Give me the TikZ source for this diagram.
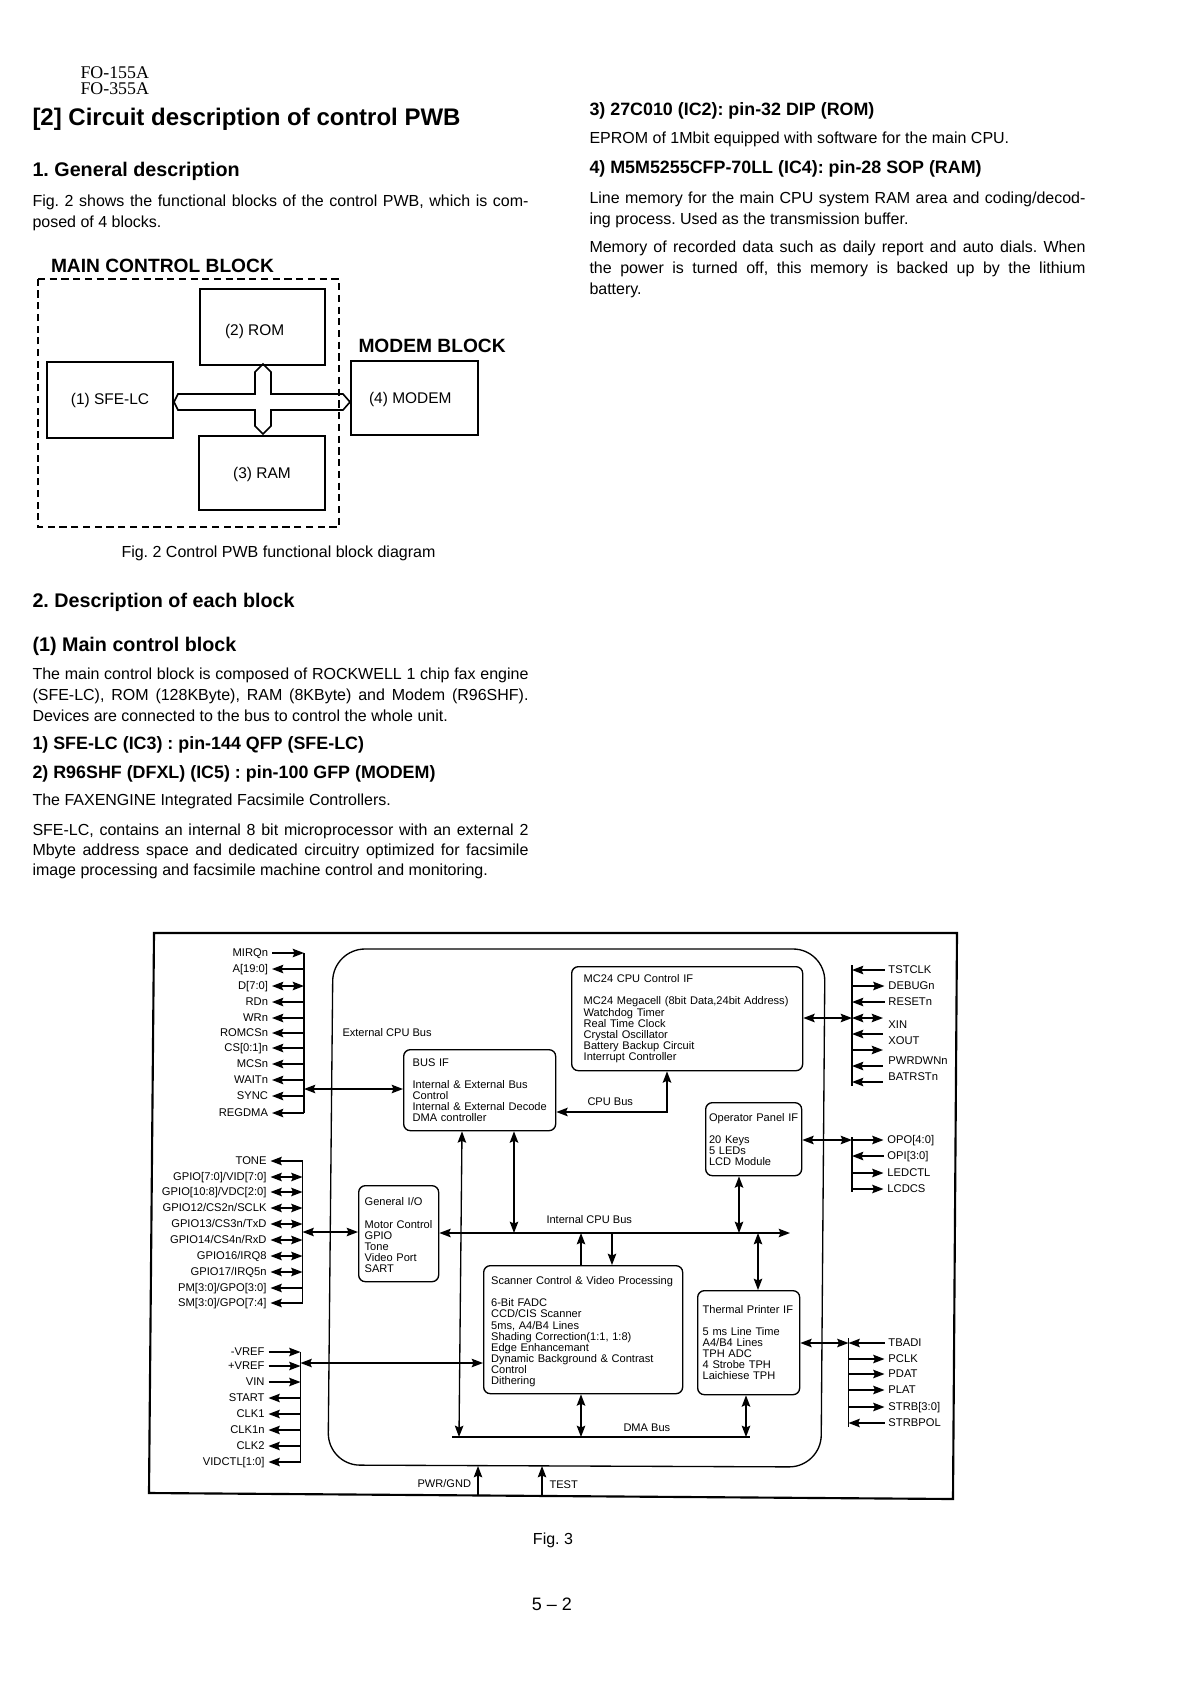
\documentclass[tikz,border=0pt]{standalone}
\usepackage{fontspec}
\setmainfont{Liberation Sans}
\newfontfamily\headerfont{Liberation Serif}
\usetikzlibrary{arrows.meta}
\newcommand{\boxlabel}[2]{\raisebox{-#1}[0pt][0pt]{#2}}

\tikzset{every picture/.style={line width=0.75pt}}
\tikzset{
  fiber/.style={line width=1pt},
  sigin/.style={fiber,-{Stealth[length=8.5pt,width=6.4pt,inset=1.4pt]}},
  sigout/.style={fiber,{Stealth[length=8.5pt,width=6.4pt,inset=1.4pt]}-},
  sigboth/.style={fiber,{Stealth[length=8.5pt,width=6.4pt,inset=1.4pt]}-{Stealth[length=8.5pt,width=6.4pt,inset=1.4pt]}},
  bigtitle/.style={anchor=west,inner sep=0pt,font=\bfseries\fontsize{18}{20}\selectfont},
  section/.style={anchor=west,inner sep=0pt,font=\bfseries\fontsize{14.8}{17}\selectfont},
  subsection/.style={anchor=west,inner sep=0pt,font=\bfseries\fontsize{13.4}{15}\selectfont},
  bodytext/.style={anchor=north west,inner sep=0pt,text width=#1,align=justify,font=\fontsize{12}{15.9}\selectfont},
  oneline/.style={anchor=west,inner sep=0pt,font=\fontsize{12}{15}\selectfont},
  tag/.style={anchor=west,inner sep=0pt,font=\fontsize{8.3}{8.3}\selectfont},
  pinl/.style={anchor=east,inner xsep=2.6pt,inner ysep=0pt,text height=6.2pt,text depth=1.5pt,font=\fontsize{8.4}{8.4}\selectfont},
  pinr/.style={anchor=west,inner xsep=2.6pt,inner ysep=0pt,text height=6.2pt,text depth=1.5pt,font=\fontsize{8.4}{8.4}\selectfont},
  bigbox/.style={draw,line width=1.5pt,anchor=north west,align=center,inner sep=0pt,font=\fontsize{11.6}{14}\selectfont},
  block/.style={draw,line width=1pt,rounded corners=5pt,anchor=north west,align=left,inner sep=0pt,font=\fontsize{8.3}{8.3}\selectfont},
  padl/.style={execute at begin node={\leftskip=#1}}
}

\begin{document}
\frenchspacing
\begin{tikzpicture}[x=0.75pt,y=0.75pt,yscale=-1,xscale=1]
    \useasboundingbox (0,0) rectangle (1192,1688);

    % Page header
    \node[anchor=west,inner sep=0pt,font=\headerfont\fontsize{13.4}{12}\selectfont] (model1) at (80,73) {FO-155A};
    \node[anchor=west,inner sep=0pt,font=\headerfont\fontsize{13.4}{12}\selectfont] (model2) at (80,89) {FO-355A};

    % Left column text
    \node[bigtitle] (title) at (32,119) {[2] Circuit description of control PWB};
    \node[section] (general) at (32,171) {1. General description};
    \node[bodytext=372pt] (generaltext) at (32,194) {Fig. 2 shows the functional blocks of the control PWB, which is com-\linebreak posed of 4 blocks.};
    \node[section] (eachblock) at (32,602) {2. Description of each block};
    \node[section] (mainblock) at (32,646) {(1) Main control block};
    \node[bodytext=372pt] (maintext) at (32,667) {The main control block is composed of ROCKWELL 1 chip fax engine\linebreak (SFE-LC), ROM (128KByte), RAM (8KByte) and Modem (R96SHF).\linebreak Devices are connected to the bus to control the whole unit.};
    \node[subsection] (sfehead) at (32,744.5) {1) SFE-LC (IC3) : pin-144 QFP (SFE-LC)};
    \node[subsection] (r96head) at (32,774) {2) R96SHF (DFXL) (IC5) : pin-100 GFP (MODEM)};
    \node[oneline] (faxline) at (32,801) {The FAXENGINE Integrated Facsimile Controllers.};
    \node[bodytext=372pt,font=\fontsize{12}{15.1}\selectfont] (sfetext) at (32,823) {SFE-LC, contains an internal 8 bit microprocessor with an external 2\linebreak Mbyte address space and dedicated circuitry optimized for facsimile\linebreak image processing and facsimile machine control and monitoring.};

    % Right column text
    \node[subsection] (romhead) at (589,110.5) {3) 27C010 (IC2): pin-32 DIP (ROM)};
    \node[oneline] (romline) at (589,139) {EPROM of 1Mbit equipped with software for the main CPU.};
    \node[subsection] (ramhead) at (589,168.5) {4) M5M5255CFP-70LL (IC4): pin-28 SOP (RAM)};
    \node[bodytext=372pt] (ramtext) at (589,191) {Line memory for the main CPU system RAM area and coding/decod-\linebreak ing process. Used as the transmission buffer.};
    \node[bodytext=372pt] (memtext) at (589,240) {Memory of recorded data such as daily report and auto dials. When\linebreak the power is turned off, this memory is backed up by the lithium\linebreak battery.};

    % Fig. 2
    \draw [line width=1.5pt,dash pattern={on 5.4pt off 3.4pt}] (38,279) -- (339,279) -- (339,527) -- (38,527) -- cycle;
    \node[anchor=west,inner sep=0pt,font=\bfseries\fontsize{14.4}{17}\selectfont] (mainlabel) at (50.5,266) {MAIN CONTROL BLOCK};
    \node[anchor=west,inner sep=0pt,font=\bfseries\fontsize{14.4}{17}\selectfont] (modemlabel) at (358,346) {MODEM BLOCK};
    \node[bigbox,minimum width=94pt,minimum height=57pt] (rom) at (199,288) {\boxlabel{6.3pt}{(2) ROM}\hspace{12pt}};
    \node[bigbox,minimum width=94.5pt,minimum height=57pt] (sfe) at (46,361) {\boxlabel{3.2pt}{(1) SFE-LC}};
    \node[bigbox,minimum width=95pt,minimum height=55.5pt] (modem) at (350,360) {\boxlabel{4.4pt}{(4) MODEM}\hspace{6pt}};
    \node[bigbox,minimum width=94.5pt,minimum height=55.5pt] (ram) at (198,435) {\boxlabel{4.4pt}{(3) RAM}};
    %Bus cross
    \draw [line width=1.2pt] (sfe.east |- 0,402) -- (178,394) -- (255,394) -- (255,372) -- (263,364) -- (271,372) -- (271,394) -- (343,394) -- (modem.west |- 0,402) -- (343,410) -- (271,410) -- (271,426) -- (263,434) -- (255,426) -- (255,410) -- (178,410) -- cycle;
    \node[oneline] (figtwo) at (121,553) {Fig. 2 Control PWB functional block diagram};

    % Fig. 3 frames
    \draw [line width=1.6pt] (154,933) -- (957,933) -- (953,1499) -- (149,1493) -- cycle;
    \draw [line width=1pt,rounded corners=24pt] (333,949) -- (825,949) -- (821,1467) -- (328,1465) -- cycle;

    % Function blocks
    \node[block,padl=6.75pt,text width=114pt,minimum height=60.75pt] (busif) at (403,1049) {BUS IF\\[8.3pt]Internal \& External Bus\\Control\\Internal \& External Decode\\DMA controller};
    \node[block,padl=9pt,text width=173.25pt,minimum height=78pt] (mc24) at (571,966) {MC24 CPU Control IF\\[8.3pt]MC24 Megacell (8bit Data,24bit Address)\\Watchdog Timer\\Real Time Clock\\Crystal Oscillator\\Battery Backup Circuit\\Interrupt Controller};
    \node[block,padl=2.5pt,text width=72pt,minimum height=54.75pt] (oppanel) at (705,1102) {Operator Panel IF\\[8.3pt]20 Keys\\5 LEDs\\LCD Module};
    \node[block,padl=4.5pt,text width=60pt,minimum height=72pt] (gpio) at (358,1185) {\rule{0pt}{8.2pt}General I/O\\[8.3pt]Motor Control\\GPIO\\Tone\\Video Port\\SART};
    \node[block,padl=5.6pt,text width=149.25pt,minimum height=96pt] (scanner) at (483,1265) {\rule{0pt}{9pt}Scanner Control \& Video Processing\\[8.3pt]6-Bit FADC\\CCD/CIS Scanner\\5ms, A4/B4 Lines\\Shading Correction(1:1, 1:8)\\Edge Enhancemant\\Dynamic Background \& Contrast\\Control\\Dithering};
    \node[block,padl=3.75pt,text width=76.5pt,minimum height=78pt] (thermal) at (697,1290) {Thermal Printer IF\\[8.3pt]5 ms Line Time\\A4/B4 Lines\\TPH ADC\\4 Strobe TPH\\Laichiese TPH};

    % Pin group spines
    \coordinate (busa) at (304,953);
    \coordinate (busaend) at (304,1113);
    \coordinate (busb) at (302.5,1161);
    \coordinate (busbend) at (302.5,1303);
    \coordinate (busc) at (300.5,1352);
    \coordinate (buscend) at (300.5,1462);
    \coordinate (busd) at (852,965);
    \coordinate (busdend) at (852,1086);
    \coordinate (buse) at (852,1137);
    \coordinate (buseend) at (852,1192);
    \coordinate (busf) at (848.5,1338);
    \coordinate (busfend) at (848.5,1427);
    \draw [fiber] (busa) -- (busaend);
    \draw [fiber] (busb) -- (busbend);
    \draw [fiber] (busc) -- (buscend);
    \draw [fiber] (busd) -- (busdend);
    \draw [fiber] (buse) -- (buseend);
    \draw [fiber] (busf) -- (busfend);

    % Text Node: CPU side pins
    \node[pinl] (mirqn) at (272,953) {MIRQn}; \draw[sigin] (mirqn) -- (mirqn -| busa);
    \node[pinl] (addr) at (272,969) {A[19:0]}; \draw[sigout] (addr) -- (addr -| busa);
    \node[pinl] (data) at (272,986) {D[7:0]}; \draw[sigboth] (data) -- (data -| busa);
    \node[pinl] (rdn) at (272,1002) {RDn}; \draw[sigout] (rdn) -- (rdn -| busa);
    \node[pinl] (wrn) at (272,1018) {WRn}; \draw[sigout] (wrn) -- (wrn -| busa);
    \node[pinl] (romcsn) at (272,1033) {ROMCSn}; \draw[sigout] (romcsn) -- (romcsn -| busa);
    \node[pinl] (csn) at (272,1048) {CS[0:1]n}; \draw[sigout] (csn) -- (csn -| busa);
    \node[pinl] (mcsn) at (272,1064) {MCSn}; \draw[sigout] (mcsn) -- (mcsn -| busa);
    \node[pinl] (waitn) at (272,1080) {WAITn}; \draw[sigout] (waitn) -- (waitn -| busa);
    \node[pinl] (sync) at (272,1096) {SYNC}; \draw[sigout] (sync) -- (sync -| busa);
    \node[pinl] (regdma) at (272,1113) {REGDMA}; \draw[sigout] (regdma) -- (regdma -| busa);

    % Text Node: GPIO side pins
    \node[pinl] (tone) at (270.5,1161) {TONE}; \draw[sigout] (tone) -- (tone -| busb);
    \node[pinl] (gpioa) at (270.5,1177) {GPIO[7:0]/VID[7:0]}; \draw[sigboth] (gpioa) -- (gpioa -| busb);
    \node[pinl] (gpiob) at (270.5,1192) {GPIO[10:8]/VDC[2:0]}; \draw[sigboth] (gpiob) -- (gpiob -| busb);
    \node[pinl] (gpioc) at (270.5,1208) {GPIO12/CS2n/SCLK}; \draw[sigboth] (gpioc) -- (gpioc -| busb);
    \node[pinl] (gpiod) at (270.5,1224) {GPIO13/CS3n/TxD}; \draw[sigboth] (gpiod) -- (gpiod -| busb);
    \node[pinl] (gpioe) at (270.5,1240) {GPIO14/CS4n/RxD}; \draw[sigboth] (gpioe) -- (gpioe -| busb);
    \node[pinl] (gpiof) at (270.5,1256) {GPIO16/IRQ8}; \draw[sigboth] (gpiof) -- (gpiof -| busb);
    \node[pinl] (gpiog) at (270.5,1272) {GPIO17/IRQ5n}; \draw[sigboth] (gpiog) -- (gpiog -| busb);
    \node[pinl] (pmgpo) at (270.5,1288) {PM[3:0]/GPO[3:0]}; \draw[sigout] (pmgpo) -- (pmgpo -| busb);
    \node[pinl] (smgpo) at (270.5,1303) {SM[3:0]/GPO[7:4]}; \draw[sigout] (smgpo) -- (smgpo -| busb);

    % Text Node: video side pins
    \node[pinl] (vrefm) at (268.5,1352) {-VREF}; \draw[sigin] (vrefm) -- (vrefm -| busc);
    \node[pinl] (vrefp) at (268.5,1366) {+VREF}; \draw[sigin] (vrefp) -- (vrefp -| busc);
    \node[pinl] (vin) at (268.5,1382) {VIN}; \draw[sigin] (vin) -- (vin -| busc);
    \node[pinl] (start) at (268.5,1398) {START}; \draw[sigout] (start) -- (start -| busc);
    \node[pinl] (clka) at (268.5,1414) {CLK1}; \draw[sigout] (clka) -- (clka -| busc);
    \node[pinl] (clkan) at (268.5,1430) {CLK1n}; \draw[sigout] (clkan) -- (clkan -| busc);
    \node[pinl] (clkb) at (268.5,1446) {CLK2}; \draw[sigout] (clkb) -- (clkb -| busc);
    \node[pinl] (vidctl) at (268.5,1462) {VIDCTL[1:0]}; \draw[sigout] (vidctl) -- (vidctl -| busc);

    % Text Node: control side pins
    \node[pinr] (tstclk) at (884.5,970) {TSTCLK}; \draw[sigout] (tstclk -| busd) -- (tstclk);
    \node[pinr] (debugn) at (884.5,986) {DEBUGn}; \draw[sigin] (debugn -| busd) -- (debugn);
    \node[pinr] (resetn) at (884.5,1002) {RESETn}; \draw[sigout] (resetn -| busd) -- (resetn);
    \node[pinr] (xin) at (884.5,1025) {XIN};
    \node[pinr] (xout) at (884.5,1041) {XOUT};
    \node[pinr] (pwrdwnn) at (884.5,1061) {PWRDWNn};
    \node[pinr] (batrstn) at (884.5,1077) {BATRSTn};
    \coordinate (xinend) at (883,1018);
    \coordinate (xoutend) at (883,1034);
    \coordinate (spareend) at (883,1050);
    \coordinate (pwrdwnend) at (883,1066);
    \coordinate (batrstend) at (883,1082);
    \draw[sigboth] (xinend -| busd) -- (xinend);
    \draw[sigout] (xoutend -| busd) -- (xoutend);
    \draw[sigin] (spareend -| busd) -- (spareend);
    \draw[sigout] (pwrdwnend -| busd) -- (pwrdwnend);
    \draw[sigout] (batrstend -| busd) -- (batrstend);

    % Text Node: panel side pins
    \node[pinr] (opo) at (883.5,1140) {OPO[4:0]}; \draw[sigin] (opo -| buse) -- (opo);
    \node[pinr] (opi) at (883.5,1156) {OPI[3:0]}; \draw[sigout] (opi -| buse) -- (opi);
    \node[pinr] (ledctl) at (883.5,1173) {LEDCTL}; \draw[sigin] (ledctl -| buse) -- (ledctl);
    \node[pinr] (lcdcs) at (883.5,1189) {LCDCS}; \draw[sigin] (lcdcs -| buse) -- (lcdcs);

    % Text Node: printer side pins
    \node[pinr] (tbadi) at (884.5,1343) {TBADI}; \draw[sigout] (tbadi -| busf) -- (tbadi);
    \node[pinr] (pclk) at (884.5,1359) {PCLK}; \draw[sigin] (pclk -| busf) -- (pclk);
    \node[pinr] (pdat) at (884.5,1374) {PDAT}; \draw[sigin] (pdat -| busf) -- (pdat);
    \node[pinr] (plat) at (884.5,1390) {PLAT}; \draw[sigin] (plat -| busf) -- (plat);
    \node[pinr] (strb) at (884.5,1407) {STRB[3:0]}; \draw[sigin] (strb -| busf) -- (strb);
    \node[pinr] (strbpol) at (884.5,1423) {STRBPOL}; \draw[sigout] (strbpol -| busf) -- (strbpol);

    % Bus coordinates
    \coordinate (intend) at (790,1233);
    \coordinate (dmastart) at (452,1437);
    \coordinate (dmaend) at (750,1437);
    \coordinate (innerfoot) at (478,1466);
    \coordinate (pwrfoot) at (478,1495);
    \coordinate (testfoot) at (542,1496);

    %Straight Lines: pin groups to blocks
    \draw[sigboth] (busa |- 0,1089) -- (busif.west |- 0,1089);
    \draw[sigboth] (busb |- 0,1232) -- (gpio.west |- 0,1232);
    \draw[sigboth] (busc |- 0,1363) -- (scanner.west |- 0,1363);
    \draw[sigboth] (mc24.east |- 0,1018) -- (busd |- 0,1018);
    \draw[sigboth] (oppanel.east |- 0,1140) -- (buse |- 0,1140);
    \draw[sigboth] (thermal.east |- 0,1343) -- (busf |- 0,1343);

    %Straight Lines: internal buses
    \draw[sigboth] (gpio.east |- intend) -- (intend);
    \draw[fiber] (dmastart) -- (dmaend);
    \draw[sigboth] (busif.south -| 462,0) -- (dmastart -| 459,0);
    \draw[sigboth] (busif.south -| 514,0) -- (intend -| 514,0);
    \draw[sigout] (intend -| 581,0) -- (scanner.north -| 581,0);
    \draw[sigin] (intend -| 612,0) -- (scanner.north -| 612,0);
    \draw[sigboth] (oppanel.south -| 739,0) -- (intend -| 739,0);
    \draw[sigboth] (intend -| 758,0) -- (thermal.north -| 758,0);
    \draw[sigboth] (scanner.south -| 581,0) -- (dmastart -| 581,0);
    \draw[sigboth] (thermal.south -| 746,0) -- (dmastart -| 746,0);
    \draw[sigboth] (busif.east |- 0,1112) -- (667,1112) -- (mc24.south -| 667,0);
    \draw[sigin] (pwrfoot) -- (innerfoot);
    \draw[sigin] (testfoot) -- (innerfoot -| testfoot);

    % Text Node
    \node[tag] (extbus) at (342,1033) {External CPU Bus};
    \node[tag] (cpubus) at (587,1102) {CPU Bus};
    \node[tag] (intbus) at (546,1220) {Internal CPU Bus};
    \node[tag] (dmabus) at (623,1428) {DMA Bus};
    \node[tag] (pwrgnd) at (417,1484) {PWR/GND};
    \node[tag] (test) at (549,1485) {TEST};

    % Text Node
    \node[oneline,anchor=center] (figthree) at (553,1540) {Fig. 3};
    \node[oneline,anchor=center,font=\fontsize{13.5}{15}\selectfont] (pageno) at (552,1604) {5 -- 2};

\end{tikzpicture}
\end{document}
